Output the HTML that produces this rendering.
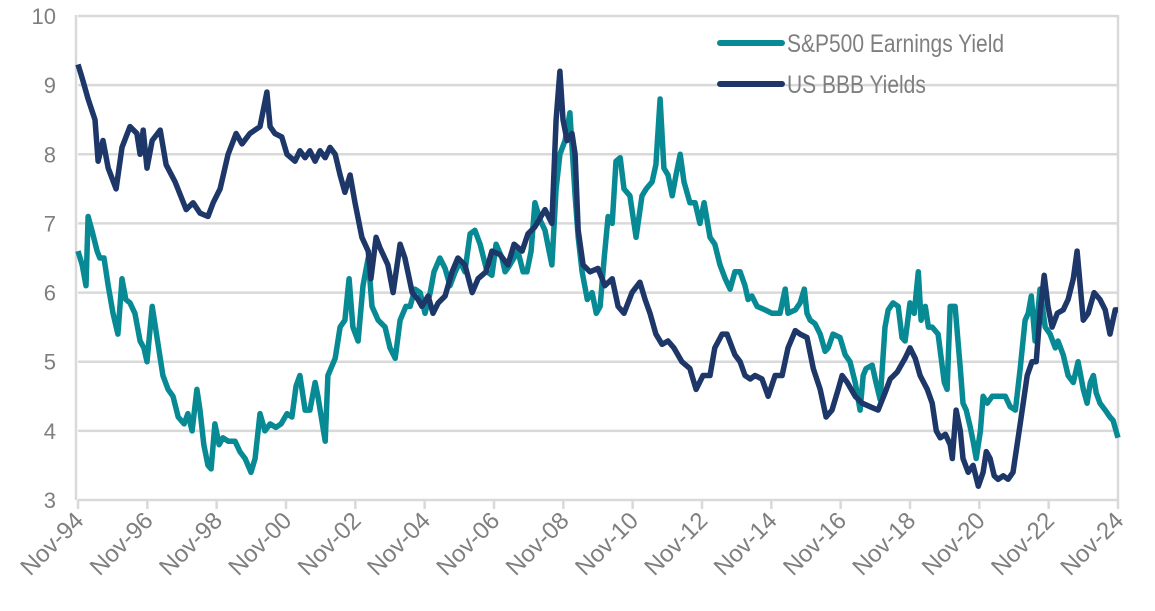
<!DOCTYPE html>
<html><head><meta charset="utf-8"><style>
html,body{margin:0;padding:0;background:#fff;}
svg{display:block;font-family:"Liberation Sans",sans-serif;}
</style></head><body>
<svg id="chart" width="1155" height="611" viewBox="0 0 1155 611">
<g id="grid"></g>
<g id="yaxis"></g>
<g id="xaxis"></g>
<g id="series"></g>
<g>
  <g>
    <line x1="720" y1="43" x2="782" y2="43" stroke="#078a94" stroke-width="6" stroke-linecap="round"/>
    <text x="787" y="52" font-size="25" fill="#7f7f7f" transform="translate(787 0) scale(0.84 1) translate(-787 0)">S&amp;P500 Earnings Yield</text>
  </g>
  <g>
    <line x1="720" y1="84" x2="782" y2="84" stroke="#1d3769" stroke-width="6" stroke-linecap="round"/>
    <text x="787" y="93" font-size="25" fill="#7f7f7f" transform="translate(787 0) scale(0.84 1) translate(-787 0)">US BBB Yields</text>
  </g>
</g>
</svg>
<script>
// years since 1900
const bbbT=[94.83,94.95,95.12,95.32,95.41,95.55,95.70,95.93,96.10,96.33,96.53,96.62,96.71,96.82,96.97,97.20,97.37,97.63,97.95,98.15,98.35,98.58,98.73,98.93,99.16,99.39,99.56,99.79,100.08,100.28,100.37,100.51,100.71,100.86,101.09,101.23,101.38,101.52,101.67,101.81,101.96,102.10,102.25,102.39,102.53,102.68,102.82,103.02,103.20,103.28,103.43,103.54,103.77,103.92,104.12,104.26,104.47,104.64,104.75,104.93,105.07,105.22,105.42,105.62,105.79,105.99,106.20,106.37,106.60,106.77,107.00,107.23,107.41,107.64,107.81,108.01,108.30,108.50,108.62,108.73,108.82,108.94,109.08,109.17,109.26,109.40,109.60,109.83,110.03,110.24,110.41,110.58,110.81,111.04,111.19,111.33,111.50,111.68,111.85,112.02,112.25,112.48,112.66,112.86,113.06,113.20,113.41,113.55,113.78,113.93,114.07,114.22,114.36,114.56,114.74,114.94,115.14,115.31,115.52,115.66,115.86,116.04,116.24,116.41,116.58,116.76,116.87,117.02,117.25,117.45,117.68,117.91,118.11,118.26,118.46,118.69,118.83,118.98,119.12,119.33,119.47,119.59,119.70,119.85,119.99,120.05,120.16,120.28,120.36,120.51,120.65,120.80,120.94,121.03,121.14,121.26,121.37,121.52,121.66,121.80,122.01,122.21,122.35,122.47,122.58,122.70,122.81,122.93,123.08,123.25,123.39,123.54,123.65,123.74,123.83,123.97,124.14,124.31,124.46,124.60,124.75,124.83];
const bbbV=[9.3,9.1,8.8,8.5,7.9,8.2,7.8,7.5,8.1,8.4,8.3,8.0,8.35,7.8,8.2,8.35,7.85,7.6,7.2,7.3,7.15,7.1,7.3,7.5,8.0,8.3,8.15,8.3,8.4,8.9,8.4,8.3,8.25,8.0,7.9,8.05,7.95,8.05,7.9,8.05,7.95,8.1,8.0,7.7,7.45,7.7,7.3,6.8,6.6,6.2,6.8,6.65,6.4,6.0,6.7,6.5,6.0,5.9,5.8,5.95,5.7,5.85,5.95,6.3,6.5,6.4,6.0,6.2,6.3,6.6,6.55,6.4,6.7,6.6,6.85,6.95,7.2,7.0,8.5,9.2,8.5,8.2,8.3,8.0,6.9,6.4,6.3,6.35,6.1,6.2,5.8,5.7,6.0,6.15,5.9,5.7,5.4,5.25,5.3,5.2,5.0,4.9,4.6,4.8,4.8,5.2,5.4,5.4,5.1,5.0,4.8,4.75,4.8,4.75,4.5,4.8,4.8,5.2,5.45,5.4,5.35,4.9,4.6,4.2,4.3,4.6,4.8,4.7,4.5,4.4,4.35,4.3,4.55,4.75,4.85,5.05,5.2,5.05,4.8,4.6,4.4,4.0,3.9,3.95,3.8,3.6,4.3,4.0,3.6,3.4,3.5,3.2,3.4,3.7,3.6,3.35,3.3,3.35,3.3,3.4,4.1,4.8,5.0,5.0,5.7,6.25,5.8,5.5,5.7,5.75,5.9,6.2,6.6,6.1,5.6,5.7,6.0,5.9,5.75,5.4,5.75,5.75];
const epsT=[94.83,94.95,95.06,95.12,95.23,95.38,95.46,95.58,95.70,95.84,95.98,96.10,96.21,96.33,96.47,96.62,96.73,96.82,96.97,97.11,97.28,97.43,97.57,97.72,97.89,98.00,98.12,98.26,98.35,98.46,98.58,98.67,98.78,98.90,99.01,99.16,99.36,99.50,99.65,99.82,99.94,100.08,100.22,100.37,100.54,100.69,100.86,101.00,101.12,101.23,101.38,101.52,101.67,101.75,101.96,102.04,102.25,102.39,102.53,102.65,102.76,102.91,103.05,103.20,103.31,103.49,103.69,103.83,103.98,104.12,104.29,104.41,104.55,104.70,104.84,104.99,105.10,105.27,105.42,105.56,105.71,105.85,105.99,106.14,106.28,106.43,106.63,106.77,106.89,107.06,107.15,107.29,107.52,107.67,107.78,107.90,108.01,108.16,108.30,108.42,108.50,108.62,108.73,108.88,109.02,109.17,109.26,109.37,109.52,109.66,109.78,109.89,110.01,110.12,110.24,110.35,110.47,110.58,110.75,110.93,111.10,111.22,111.39,111.50,111.62,111.73,111.85,111.97,112.08,112.20,112.31,112.48,112.63,112.77,112.89,113.06,113.20,113.35,113.50,113.64,113.78,113.93,114.07,114.16,114.27,114.42,114.65,114.85,115.08,115.23,115.31,115.52,115.66,115.78,115.86,115.95,116.09,116.24,116.38,116.47,116.61,116.81,116.96,117.10,117.25,117.39,117.48,117.56,117.74,117.85,117.97,118.11,118.20,118.34,118.49,118.60,118.69,118.83,118.95,119.07,119.15,119.27,119.36,119.47,119.64,119.82,119.90,119.99,120.13,120.28,120.36,120.45,120.57,120.65,120.74,120.86,120.94,121.06,121.20,121.43,121.58,121.72,121.87,122.01,122.15,122.24,122.33,122.44,122.58,122.73,122.87,123.02,123.10,123.25,123.39,123.54,123.68,123.83,123.94,124.03,124.12,124.20,124.31,124.46,124.60,124.69,124.83];
const epsV=[6.6,6.4,6.1,7.1,6.9,6.6,6.5,6.5,6.1,5.7,5.4,6.2,5.9,5.85,5.7,5.3,5.2,5.0,5.8,5.35,4.8,4.6,4.5,4.2,4.1,4.25,4.0,4.6,4.3,3.8,3.5,3.45,4.1,3.8,3.9,3.85,3.85,3.7,3.6,3.4,3.6,4.25,4.0,4.1,4.05,4.1,4.25,4.2,4.65,4.8,4.3,4.3,4.7,4.5,3.85,4.8,5.05,5.5,5.6,6.2,5.5,5.3,6.1,6.5,5.8,5.6,5.5,5.2,5.05,5.6,5.8,5.8,6.05,6.0,5.7,6.0,6.3,6.5,6.35,6.1,6.3,6.45,6.3,6.85,6.9,6.7,6.3,6.25,6.7,6.5,6.3,6.4,6.6,6.3,6.3,6.6,7.3,7.05,6.9,6.6,6.4,7.5,8.0,8.2,8.6,7.4,6.8,6.3,5.9,6.0,5.7,5.8,6.5,7.1,7.0,7.9,7.95,7.5,7.4,6.8,7.4,7.5,7.6,7.85,8.8,7.8,7.7,7.4,7.7,8.0,7.6,7.3,7.3,7.0,7.3,6.8,6.7,6.4,6.2,6.05,6.3,6.3,6.1,5.9,5.95,5.8,5.75,5.7,5.7,6.05,5.7,5.75,5.85,6.05,5.7,5.6,5.55,5.4,5.15,5.2,5.4,5.35,5.1,5.0,4.7,4.3,4.8,4.9,4.95,4.7,4.45,5.5,5.75,5.85,5.8,5.35,5.3,5.85,5.7,6.3,5.6,5.8,5.5,5.5,5.4,4.7,4.6,5.8,5.8,4.9,4.4,4.3,4.05,3.85,3.6,4.0,4.5,4.4,4.5,4.5,4.5,4.35,4.3,4.9,5.6,5.7,5.95,5.3,6.05,5.5,5.4,5.2,5.3,5.1,4.8,4.7,5.0,4.6,4.4,4.7,4.8,4.55,4.4,4.3,4.2,4.15,3.9];
const yTicks=[3,4,5,6,7,8,9,10];
const xTickYears=[94.83,96.83,98.83,100.83,102.83,104.83,106.83,108.83,110.83,112.83,114.83,116.83,118.83,120.83,122.83,124.83];
const xTickLabels=["Nov-94","Nov-96","Nov-98","Nov-00","Nov-02","Nov-04","Nov-06","Nov-08","Nov-10","Nov-12","Nov-14","Nov-16","Nov-18","Nov-20","Nov-22","Nov-24"];

const L=78,R=1118,T=16,B=500,ymin=3,ymax=10,t0=94.83,t1=124.83;
const X=t=>L+(t-t0)/(t1-t0)*(R-L);
const Y=v=>B-(v-ymin)/(ymax-ymin)*(B-T);
const NS="http://www.w3.org/2000/svg";
function mk(tag,attrs,parent){const e=document.createElementNS(NS,tag);for(const k in attrs)e.setAttribute(k,attrs[k]);parent.appendChild(e);return e;}
const grid=document.getElementById('grid'),ya=document.getElementById('yaxis'),xa=document.getElementById('xaxis'),ser=document.getElementById('series');
yTicks.forEach(v=>{
  const g=mk('line',{x1:L,x2:R,y1:Y(v),y2:Y(v),stroke:'#d9d9d9','stroke-width':2.5},grid);
  
  
  const t=mk('text',{x:56,y:Y(v)+8,'text-anchor':'end','font-size':22,fill:'#7f7f7f'},ya);
  t.textContent=v;
  
  
});
const lb=mk('line',{x1:L-2,x2:L-2,y1:T-1,y2:B,stroke:'#d9d9d9','stroke-width':2.5},grid);


const rb=mk('line',{x1:R,x2:R,y1:T-1,y2:B,stroke:'#d9d9d9','stroke-width':2.5},grid);


xTickYears.forEach((t,i)=>{
  const x=X(t);
  const tk=mk('line',{x1:x,x2:x,y1:B,y2:B+9,stroke:'#d9d9d9','stroke-width':2.5},xa);
  
  
  const tx=mk('text',{x:x+7,y:B+22,'text-anchor':'end','font-size':24,fill:'#7f7f7f',transform:`rotate(-45 ${x+7} ${B+22})`},xa);
  tx.textContent=xTickLabels[i];
  
  
});
function line(ts,vs,color,name){
  const d=ts.map((t,i)=>(i?'L':'M')+X(t).toFixed(1)+' '+Y(vs[i]).toFixed(1)).join(' ');
  const p=mk('path',{d:d,fill:'none',stroke:color,'stroke-width':5.5,'stroke-linejoin':'round'},ser);
  
  
}
line(epsT,epsV,'#078a94','earnings-yield-line');
line(bbbT,bbbV,'#1d3769','bbb-yield-line');
</script>
</body></html>
